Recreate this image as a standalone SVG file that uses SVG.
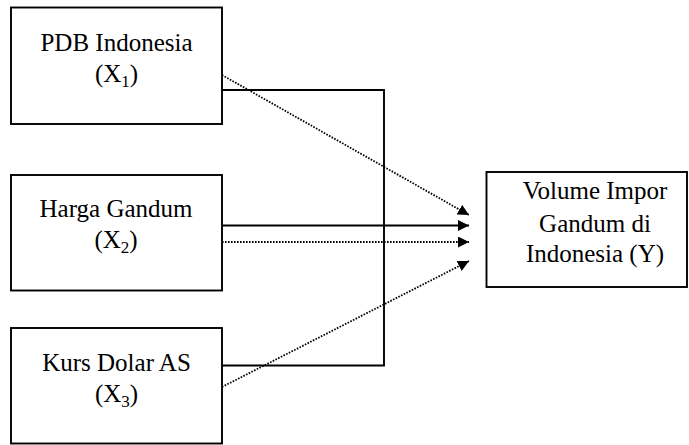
<svg xmlns="http://www.w3.org/2000/svg" width="689" height="445" viewBox="0 0 689 445">
<style>
.box{fill:#fff;stroke:#000;stroke-width:1.9}
.t{font-family:"Liberation Serif","Times New Roman",serif;font-size:25px;fill:#000;text-anchor:middle}
.sub{font-size:17px}
.solid{fill:none;stroke:#000;stroke-width:1.9}
.dot{fill:none;stroke:#000;stroke-width:1.8;stroke-dasharray:1.6 1.4}
</style>
<defs>
<marker id="ah" markerUnits="userSpaceOnUse" markerWidth="11" markerHeight="11" refX="11" refY="5.5" orient="auto" viewBox="0 0 11 11">
<path d="M0,0 L11,5.5 L0,11 z" fill="#000"/>
</marker>
</defs>
<rect width="689" height="445" fill="#fff"/>
<g id="connectors">
<polyline class="solid" points="222,90 384,90 384,365.5 222,365.5"/>
<line class="solid" x1="222" y1="225.5" x2="469" y2="225.5" marker-end="url(#ah)"/>
<line class="dot" x1="222" y1="242" x2="469" y2="242" marker-end="url(#ah)"/>
<line class="dot" x1="222" y1="75" x2="469" y2="215" marker-end="url(#ah)"/>
<line class="dot" x1="222" y1="387" x2="469" y2="261" marker-end="url(#ah)"/>
</g>
<g id="x1">
<rect class="box" x="11" y="7.5" width="211" height="116.5"/>
<text class="t" x="116.5" y="51">PDB Indonesia</text>
<text class="t" x="116.5" y="82">(X<tspan class="sub" dy="5">1</tspan><tspan dy="-5">)</tspan></text>
</g>
<g id="x2">
<rect class="box" x="11" y="175" width="211" height="115.5"/>
<text class="t" x="116" y="216.5">Harga Gandum</text>
<text class="t" x="116" y="248">(X<tspan class="sub" dy="5">2</tspan><tspan dy="-5">)</tspan></text>
</g>
<g id="x3">
<rect class="box" x="11" y="328" width="211" height="115.5"/>
<text class="t" x="116.5" y="370.5">Kurs Dolar AS</text>
<text class="t" x="116.5" y="401.5">(X<tspan class="sub" dy="5">3</tspan><tspan dy="-5">)</tspan></text>
</g>
<g id="y">
<rect class="box" x="486.5" y="172" width="200.5" height="115"/>
<text class="t" x="595" y="198.5">Volume Impor</text>
<text class="t" x="595" y="231.5">Gandum di</text>
<text class="t" x="595" y="262">Indonesia (Y)</text>
</g>
</svg>
